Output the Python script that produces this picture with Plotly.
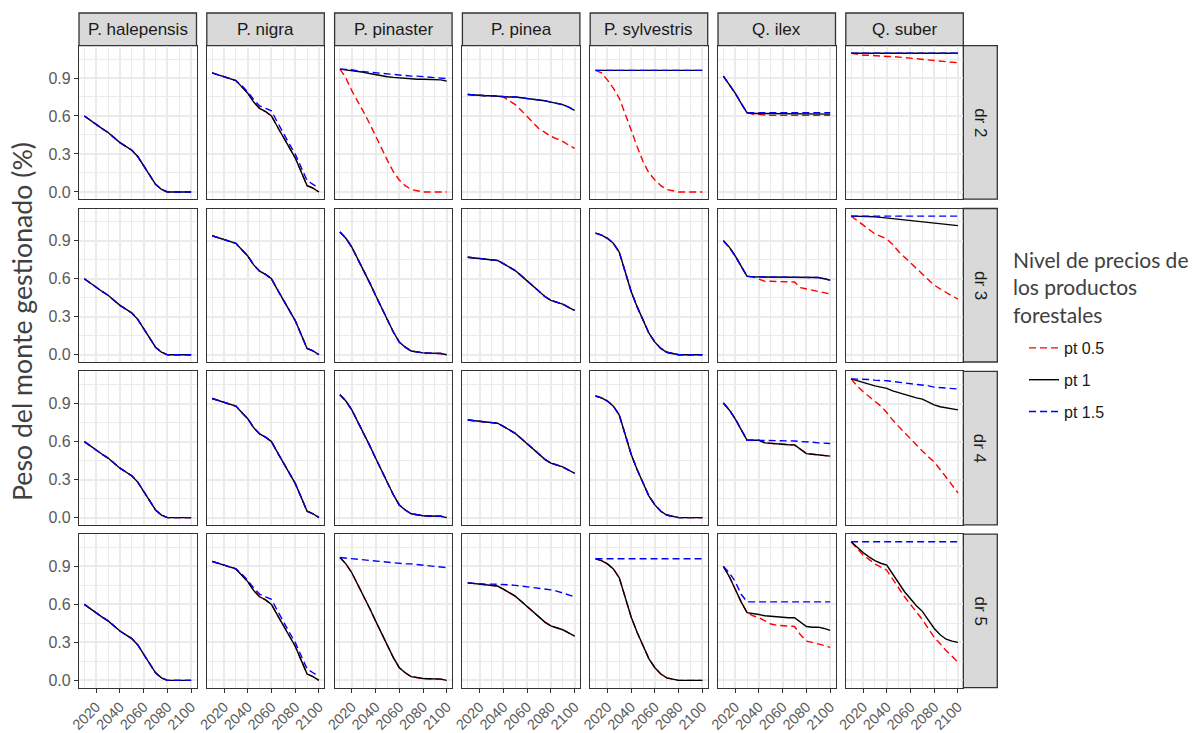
import plotly.graph_objects as go

W, H = 1192, 733

years = [2010, 2015, 2020, 2025, 2030, 2035, 2040, 2045, 2050, 2055,
         2060, 2065, 2070, 2075, 2080, 2085, 2090, 2095, 2100]

species = ["P. halepensis", "P. nigra", "P. pinaster", "P. pinea",
           "P. sylvestris", "Q. ilex", "Q. suber"]
drs = ["dr 2", "dr 3", "dr 4", "dr 5"]
price_levels = ["pt 0.5", "pt 1", "pt 1.5"]
x_ticks = [2020, 2040, 2060, 2080, 2100]
y_ticks = [0.0, 0.3, 0.6, 0.9]
y_tick_text = ["0.0", "0.3", "0.6", "0.9"]

# ---- series values (share of managed forest) ----
halepensis = [.60, .565, .53, .50, .47, .43, .39, .36, .33, .28, .21, .13, .06, .02, 0, 0, 0, 0, 0]

nigra = [.94, .925, .91, .895, .88, .83, .78, .71, .66, .635, .60, .515, .43, .35, .27, .16, .05, .03, 0.0]
nigra_pt15 = [.94, .925, .91, .895, .88, .84, .79, .73, .68, .66, .64, .55, .46, .38, .30, .20, .09, .06, .03]

pinaster = [.97, .92, .85, .76, .66, .57, .47, .37, .27, .18, .10, .06, .03, .02, .015, .013, .012, .01, 0.0]
pinaster_dr2_pt05 = [.97, .90, .80, .72, .63, .54, .44, .34, .25, .16, .095, .05, .02, .01, 0, 0, 0, 0, 0]
pinaster_dr2_pt1 = [.97, .965, .96, .955, .945, .935, .925, .915, .91, .905, .90, .895, .89, .89, .89, .89, .89, .885, .875]
pinaster_dr2_pt15 = [.97, .97, .965, .955, .95, .945, .94, .935, .93, .93, .925, .92, .915, .915, .91, .905, .90, .90, .895]
pinaster_dr5_pt15 = [.97, .965, .96, .955, .95, .945, .94, .935, .93, .925, .925, .92, .92, .915, .91, .905, .90, .895, .89]

pinea = [.77, .765, .76, .76, .755, .745, .72, .695, .665, .625, .585, .54, .50, .46, .43, .415, .40, .375, .35]
pinea_dr2_pt05 = [.77, .765, .76, .76, .76, .755, .75, .72, .69, .645, .595, .545, .50, .47, .44, .42, .40, .37, .345]
pinea_dr2_pt1 = [.77, .765, .76, .76, .76, .755, .755, .75, .75, .745, .74, .735, .73, .72, .71, .70, .69, .67, .645]
pinea_dr5_pt15 = [.77, .765, .765, .76, .76, .76, .755, .755, .75, .745, .74, .735, .73, .725, .715, .705, .69, .675, .66]

sylvestris = [.96, .945, .92, .88, .81, .65, .50, .38, .27, .17, .10, .05, .02, .01, 0, 0, 0, 0, 0]
sylvestris_dr2_pt05 = [.96, .94, .885, .82, .74, .62, .49, .36, .24, .15, .095, .05, .02, .01, 0, 0, 0, 0, 0]
sylvestris_flat = [.96, .96, .96, .96, .96, .96, .96, .96, .96, .96, .96, .96, .96, .96, .96, .96, .96, .96, .96]

ilex_dr2_pt05 = [.915, .85, .78, .70, .625, .615, .61, .605, .605, .605, .605, .605, .605, .605, .605, .605, .605, .605, .605]
ilex_dr2_pt1 = [.915, .85, .78, .70, .625, .62, .62, .62, .62, .62, .615, .615, .615, .615, .615, .615, .615, .615, .615]
ilex_dr2_pt15 = [.915, .85, .78, .70, .625, .625, .625, .625, .625, .625, .625, .625, .625, .625, .625, .625, .625, .625, .625]
ilex_dr3_pt05 = [.90, .85, .78, .70, .62, .615, .60, .58, .58, .58, .58, .58, .575, .53, .52, .51, .50, .49, .48]
ilex_dr3_pt1 = [.90, .85, .78, .70, .62, .615, .615, .615, .615, .615, .615, .615, .615, .615, .615, .61, .61, .60, .59]
ilex_dr4_pt1 = [.905, .85, .78, .70, .61, .61, .61, .59, .585, .58, .575, .575, .574, .54, .505, .50, .495, .49, .485]
ilex_dr4_pt15 = [.905, .85, .78, .70, .61, .61, .61, .61, .61, .61, .61, .61, .605, .60, .60, .595, .59, .585, .585]
ilex_dr5_pt05 = [.90, .82, .72, .62, .535, .51, .495, .47, .445, .435, .43, .43, .425, .36, .31, .30, .29, .275, .26]
ilex_dr5_pt1 = [.90, .82, .72, .62, .535, .53, .52, .51, .505, .50, .495, .495, .495, .46, .425, .42, .42, .41, .395]
ilex_dr5_pt15 = [.90, .85, .78, .68, .62, .62, .62, .62, .62, .62, .62, .62, .62, .62, .62, .62, .62, .62, .62]

suber_flat = [1.095, 1.095, 1.095, 1.095, 1.095, 1.095, 1.095, 1.095, 1.095, 1.095, 1.095, 1.095, 1.095, 1.095, 1.095, 1.095, 1.095, 1.095, 1.095]
suber_dr2_pt05 = [1.095, 1.085, 1.08, 1.08, 1.075, 1.075, 1.07, 1.07, 1.065, 1.065, 1.06, 1.055, 1.05, 1.04, 1.035, 1.03, 1.025, 1.02, 1.02]
suber_dr3_pt05 = [1.095, 1.06, 1.02, .985, .955, .935, .915, .87, .815, .77, .725, .685, .64, .595, .55, .52, .49, .465, .44]
suber_dr3_pt1 = [1.095, 1.095, 1.095, 1.093, 1.09, 1.085, 1.08, 1.075, 1.07, 1.065, 1.06, 1.055, 1.05, 1.04, 1.035, 1.03, 1.025, 1.02, 1.02]
suber_dr4_pt05 = [1.095, 1.04, .995, .955, .92, .88, .83, .77, .72, .67, .62, .57, .525, .48, .44, .38, .32, .255, .195]
suber_dr4_pt1 = [1.095, 1.08, 1.065, 1.05, 1.04, 1.03, 1.02, 1.0, .985, .97, .955, .945, .935, .91, .89, .875, .865, .855, .85]
suber_dr4_pt15 = [1.095, 1.095, 1.09, 1.09, 1.085, 1.085, 1.08, 1.075, 1.07, 1.065, 1.06, 1.055, 1.045, 1.04, 1.03, 1.025, 1.02, 1.02, 1.015]
suber_dr5_pt05 = [1.095, 1.04, .99, .955, .92, .895, .87, .80, .725, .66, .60, .54, .48, .41, .34, .29, .235, .19, .145]
suber_dr5_pt1 = [1.095, 1.05, 1.01, .975, .945, .925, .91, .84, .77, .70, .645, .59, .545, .48, .41, .36, .325, .31, .30]

# (species, dr) -> (pt 0.5, pt 1, pt 1.5)
panel_series = {
    ("P. halepensis", "dr 2"): (halepensis, halepensis, halepensis),
    ("P. halepensis", "dr 3"): (halepensis, halepensis, halepensis),
    ("P. halepensis", "dr 4"): (halepensis, halepensis, halepensis),
    ("P. halepensis", "dr 5"): (halepensis, halepensis, halepensis),
    ("P. nigra", "dr 2"): (nigra, nigra, nigra_pt15),
    ("P. nigra", "dr 3"): (nigra, nigra, nigra),
    ("P. nigra", "dr 4"): (nigra, nigra, nigra),
    ("P. nigra", "dr 5"): (nigra, nigra, nigra_pt15),
    ("P. pinaster", "dr 2"): (pinaster_dr2_pt05, pinaster_dr2_pt1, pinaster_dr2_pt15),
    ("P. pinaster", "dr 3"): (pinaster, pinaster, pinaster),
    ("P. pinaster", "dr 4"): (pinaster, pinaster, pinaster),
    ("P. pinaster", "dr 5"): (pinaster, pinaster, pinaster_dr5_pt15),
    ("P. pinea", "dr 2"): (pinea_dr2_pt05, pinea_dr2_pt1, pinea_dr2_pt1),
    ("P. pinea", "dr 3"): (pinea, pinea, pinea),
    ("P. pinea", "dr 4"): (pinea, pinea, pinea),
    ("P. pinea", "dr 5"): (pinea, pinea, pinea_dr5_pt15),
    ("P. sylvestris", "dr 2"): (sylvestris_dr2_pt05, sylvestris_flat, sylvestris_flat),
    ("P. sylvestris", "dr 3"): (sylvestris, sylvestris, sylvestris),
    ("P. sylvestris", "dr 4"): (sylvestris, sylvestris, sylvestris),
    ("P. sylvestris", "dr 5"): (sylvestris, sylvestris, sylvestris_flat),
    ("Q. ilex", "dr 2"): (ilex_dr2_pt05, ilex_dr2_pt1, ilex_dr2_pt15),
    ("Q. ilex", "dr 3"): (ilex_dr3_pt05, ilex_dr3_pt1, ilex_dr3_pt1),
    ("Q. ilex", "dr 4"): (ilex_dr4_pt1, ilex_dr4_pt1, ilex_dr4_pt15),
    ("Q. ilex", "dr 5"): (ilex_dr5_pt05, ilex_dr5_pt1, ilex_dr5_pt15),
    ("Q. suber", "dr 2"): (suber_dr2_pt05, suber_flat, suber_flat),
    ("Q. suber", "dr 3"): (suber_dr3_pt05, suber_dr3_pt1, suber_flat),
    ("Q. suber", "dr 4"): (suber_dr4_pt05, suber_dr4_pt1, suber_dr4_pt15),
    ("Q. suber", "dr 5"): (suber_dr5_pt05, suber_dr5_pt1, suber_flat),
}

colors = ["#FF0000", "#000000", "#0000FF"]
dashes = ["7px,4px", "solid", "7px,4px"]

# ---- layout geometry (pixels) ----
col_left0, col_pitch, panel_w = 79.0, 127.8, 117.5
row_top0, row_pitch, panel_h = 45.7, 162.8, 153.5
strip_top = 13.0
strip_right_w = 34.0

def px_x(v):
    return v / W

def px_y(v):
    return 1 - v / H

fig = go.Figure()
layout = dict(
    template="none",
    width=W, height=H,
    margin=dict(l=0, r=0, t=0, b=0, pad=0, autoexpand=False),
    paper_bgcolor="white", plot_bgcolor="white",
    showlegend=True,
)
shapes = []
annotations = []

xtick_font = dict(family="Liberation Sans, Arial, sans-serif", size=14.5, color="#5A5A5A")
ytick_font = dict(family="Liberation Sans, Arial, sans-serif", size=16, color="#5A5A5A")
strip_font = dict(family="Liberation Sans, Arial, sans-serif", size=17, color="#1A1A1A")
grid_c = "#EBEBEB"
border_c = "#333333"

for r, dr in enumerate(drs):
    for c, sp in enumerate(species):
        k = r * len(species) + c + 1
        xa = "xaxis" if k == 1 else f"xaxis{k}"
        ya = "yaxis" if k == 1 else f"yaxis{k}"
        xr = "x" if k == 1 else f"x{k}"
        yr = "y" if k == 1 else f"y{k}"
        left = col_left0 + c * col_pitch
        top = row_top0 + r * row_pitch
        layout[xa] = dict(
            domain=[px_x(left), px_x(left + panel_w)],
            anchor=yr, range=[2005.5, 2104.5], automargin=False,
            tickmode="array", tickvals=x_ticks, ticktext=[str(t) for t in x_ticks],
            showticklabels=(r == len(drs) - 1),
            ticks="outside" if r == len(drs) - 1 else "",
            ticklen=4, tickwidth=1.3, tickcolor=border_c,
            tickangle=-45, tickfont=xtick_font,
            showgrid=True, gridcolor=grid_c, gridwidth=1.6,
            minor=dict(tickmode="array", tickvals=[2010, 2030, 2050, 2070, 2090], showgrid=True,
                       gridcolor=grid_c, gridwidth=0.8, ticks=""),
            showline=True, mirror=True, linecolor=border_c, linewidth=1.3,
            zeroline=False, fixedrange=True,
        )
        layout[ya] = dict(
            domain=[px_y(top + panel_h), px_y(top)],
            anchor=xr, range=[-0.057, 1.155], automargin=False,
            tickmode="array", tickvals=y_ticks, ticktext=y_tick_text,
            showticklabels=(c == 0),
            ticks="outside" if c == 0 else "",
            ticklen=4, tickwidth=1.3, tickcolor=border_c,
            tickfont=ytick_font,
            showgrid=True, gridcolor=grid_c, gridwidth=1.6,
            minor=dict(tickmode="array", tickvals=[0.15, 0.45, 0.75, 1.05], showgrid=True,
                       gridcolor=grid_c, gridwidth=0.8, ticks=""),
            showline=True, mirror=True, linecolor=border_c, linewidth=1.3,
            zeroline=False, fixedrange=True,
        )
        series = panel_series[(sp, dr)]
        for i, lvl in enumerate(price_levels):
            fig.add_trace(go.Scatter(
                x=years, y=series[i], mode="lines",
                line=dict(color=colors[i], width=1.4, dash=dashes[i]),
                name=lvl, legendgroup=lvl, showlegend=(k == 1),
                xaxis=xr, yaxis=yr, hoverinfo="skip",
            ))
        # top strips
        if r == 0:
            shapes.append(dict(type="rect", xref="paper", yref="paper",
                               x0=px_x(left), x1=px_x(left + panel_w),
                               y0=px_y(top), y1=px_y(strip_top),
                               fillcolor="#D9D9D9", line=dict(color=border_c, width=1.3),
                               layer="below"))
            annotations.append(dict(text=sp, xref="paper", yref="paper",
                                    x=px_x(left + panel_w / 2), y=px_y((top + strip_top) / 2),
                                    showarrow=False, xanchor="center", yanchor="middle",
                                    font=strip_font))
    # right strips
    top = row_top0 + r * row_pitch
    right = col_left0 + (len(species) - 1) * col_pitch + panel_w
    shapes.append(dict(type="rect", xref="paper", yref="paper",
                       x0=px_x(right), x1=px_x(right + strip_right_w),
                       y0=px_y(top + panel_h), y1=px_y(top),
                       fillcolor="#D9D9D9", line=dict(color=border_c, width=1.3),
                       layer="below"))
    annotations.append(dict(text=dr, xref="paper", yref="paper",
                            x=px_x(right + strip_right_w / 2), y=px_y(top + panel_h / 2),
                            showarrow=False, textangle=90, xanchor="center", yanchor="middle",
                            font=strip_font))

annotations.append(dict(text="Peso del monte gestionado (%)", xref="paper", yref="paper",
                        x=px_x(22), y=px_y(322), showarrow=False, textangle=-90,
                        xanchor="center", yanchor="middle",
                        font=dict(family="Lato, sans-serif", size=26.7, color="#404040")))

# legend title (placed as text block above the legend entries)
annotations.append(dict(text="Nivel de precios de<br>los productos<br>forestales",
                        xref="paper", yref="paper", x=px_x(1011), y=px_y(245),
                        xanchor="left", yanchor="top", align="left", showarrow=False,
                        font=dict(family="Lato, sans-serif", size=21, color="#404040")))

layout["shapes"] = shapes
layout["annotations"] = annotations
layout["legend"] = dict(
    x=px_x(1024), y=px_y(331), xanchor="left", yanchor="top",
    font=dict(family="Liberation Sans, Arial, sans-serif", size=16, color="#1A1A1A"),
    bgcolor="rgba(0,0,0,0)", tracegroupgap=8, traceorder="grouped",
)
fig.update_layout(**layout)
fig.write_html("out.html", config={"displayModeBar": False},
               post_script="document.body.style.margin='0px';")
